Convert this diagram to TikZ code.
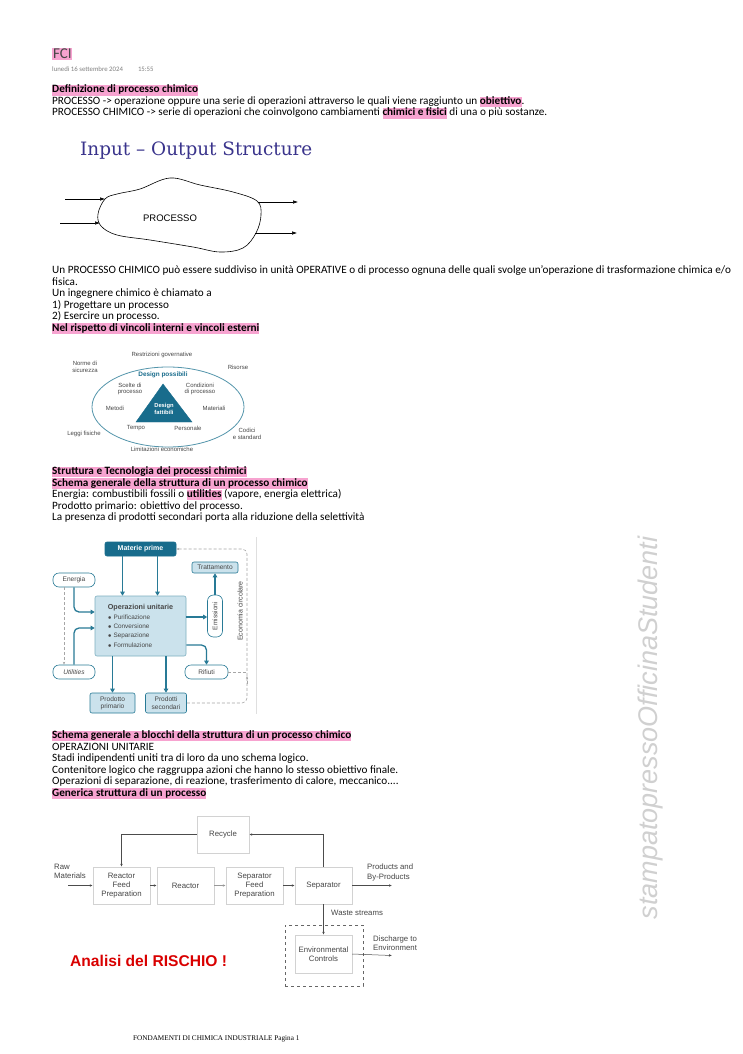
\documentclass[tikz,border=0pt]{standalone}
\usepackage{fontspec}
\setmainfont{Carlito}
\newfontfamily\arialf{Liberation Sans}
\newfontfamily\seriff{Liberation Serif}
\newfontfamily\titlef{DejaVu Serif}
\usetikzlibrary{arrows.meta,positioning}

\definecolor{hlpink}{RGB}{247,163,208}
\definecolor{titleblue}{RGB}{58,52,140}
\definecolor{tealdark}{RGB}{24,108,140}
\definecolor{tealline}{RGB}{40,122,150}
\definecolor{lightblue}{RGB}{203,226,236}
\definecolor{boxgray}{RGB}{210,210,210}
\definecolor{txtgray}{RGB}{70,70,70}
\definecolor{wmgray}{RGB}{208,208,208}

\newcommand{\hlbox}[1]{{\setlength{\fboxsep}{0pt}\colorbox{hlpink}{\rule[-2.6pt]{0pt}{10.2pt}#1}}}
\newcommand{\hlb}[1]{\hlbox{\textbf{#1}}}

\begin{document}
\begin{tikzpicture}[x=1pt,y=-1pt,
        riga/.style={anchor=base west,inner sep=0pt,font=\fontsize{11.2}{12}\selectfont},
        etich/.style={inner sep=0pt,align=center,text=txtgray,font=\arialf\fontsize{6}{6.6}\selectfont},
        sbox/.style={draw=tealline,fill=lightblue,line width=0.6pt,inner sep=1pt,align=center,text=txtgray,font=\arialf\fontsize{6.6}{7.4}\selectfont},
        sround/.style={sbox,fill=white,rounded corners=6pt,minimum height=14,minimum width=42},
        tarrow/.style={draw=tealline,line width=1.3pt,-{Triangle[length=4pt,width=4.5pt]},rounded corners=5pt},
        dloop/.style={draw=gray!70,densely dashed,line width=0.6pt},
        blocco/.style={draw=boxgray,minimum width=57,minimum height=37,align=center,inner sep=1pt,text=txtgray,font=\arialf\fontsize{7.8}{9.3}\selectfont},
        barrow/.style={draw=black!70,line width=0.5pt,-{Latex[length=3pt,width=2.5pt]}}]
            \useasboundingbox[fill=white] (0,0) rectangle (743,1054);

            % intestazione
            \node[riga,font=\fontsize{15}{16}\selectfont,text=txtgray] (fci) at (52,59) {{\setlength{\fboxsep}{0.8pt}\colorbox{hlpink}{FCI}}};
            \node[riga,font=\fontsize{6.8}{7}\selectfont,text=gray] (data) at (52,72) {lunedì 16 settembre 2024\hspace{15pt}15:55};

            \node[riga] (r1) at (52,93) {\hlb{Definizione di processo chimico}};
            \node[riga] (r2) at (52,104.5) {PROCESSO -> operazione oppure una serie di operazioni attraverso le quali viene raggiunto un \hlb{obiettivo}.};
            \node[riga] (r3) at (52,116) {PROCESSO CHIMICO -> serie di operazioni che coinvolgono cambiamenti \hlb{chimici e fisici} di una o più sostanze.};

            % input - output
            \node[anchor=base west,inner sep=0pt,text=titleblue,font=\titlef\fontsize{18.4}{20}\selectfont] (titolo) at (80,155) {Input – Output Structure};
            \draw[line width=0.6pt] plot[smooth cycle,tension=0.6] coordinates {(105,199) (117,194) (140,189) (170,178) (200,185) (233,192) (257,201) (261,215) (256,233) (243,248) (220,252) (193,247) (150,240) (117,235) (101,226) (98,214)};
            \node[font=\arialf\fontsize{9.5}{10}\selectfont] (proc) at (170,218) {PROCESSO};
            \coordinate (in1) at (65,199);
            \coordinate (in2) at (60,223);
            \coordinate (e1) at (105,199);
            \coordinate (e2) at (100,223);
            \coordinate (u1) at (258,202);
            \coordinate (u2) at (255,233);
            \coordinate (out1) at (298,202);
            \coordinate (out2) at (297,233);
            \draw[barrow,draw=black,-{Latex[length=5pt,width=3.5pt]}] (in1) -- (e1);
            \draw[barrow,draw=black,-{Latex[length=5pt,width=3.5pt]}] (in2) -- (e2);
            \draw[barrow,draw=black,-{Latex[length=5pt,width=3.5pt]}] (u1) -- (out1);
            \draw[barrow,draw=black,-{Latex[length=5pt,width=3.5pt]}] (u2) -- (out2);

            \node[riga] (r4) at (52,273.5) {Un PROCESSO CHIMICO può essere suddiviso in unità OPERATIVE o di processo ognuna delle quali svolge un'operazione di trasformazione chimica e/o};
            \node[riga] (r5) at (52,285) {fisica.};
            \node[riga] (r6) at (52,296.5) {Un ingegnere chimico è chiamato a};
            \node[riga] (r7) at (52,308) {1) Progettare un processo};
            \node[riga] (r8) at (52,319.5) {2) Esercire un processo.};
            \node[riga] (r9) at (52,331) {\hlb{Nel rispetto di vincoli interni e vincoli esterni}};

            % vincoli
            \draw[draw=tealline!80,line width=0.8pt] (168,407) ellipse [x radius=76,y radius=40];
            \draw[fill=tealdark,draw=tealdark] (163,384) -- (136,422) -- (192,422) -- cycle;
            \node[etich,text=white,font=\arialf\bfseries\fontsize{5.8}{6.2}\selectfont] (fattibili) at (164,409) {Design\\fattibili};
            \node[etich,text=tealdark,font=\arialf\bfseries\fontsize{6.4}{7}\selectfont] (possibili) at (163,375) {Design possibili};
            \node[etich] (restr) at (162,355) {Restrizioni governative};
            \node[etich] (norme) at (85,367) {Norme di\\sicurezza};
            \node[etich] (risorse) at (238,367) {Risorse};
            \node[etich] (scelte) at (130,389) {Scelte di\\processo};
            \node[etich] (condiz) at (200,389) {Condizioni\\di processo};
            \node[etich] (metodi) at (115,408) {Metodi};
            \node[etich] (materiali) at (214,408) {Materiali};
            \node[etich] (tempo) at (136,428) {Tempo};
            \node[etich] (personale) at (188,428) {Personale};
            \node[etich] (leggi) at (84,434) {Leggi fisiche};
            \node[etich] (codici) at (247,434) {Codici\\e standard};
            \node[etich] (limit) at (162,449) {Limitazioni economiche};

            \node[riga] (r10) at (52,474.5) {\hlb{Struttura e Tecnologia dei processi chimici}};
            \node[riga] (r11) at (52,486) {\hlb{Schema generale della struttura di un processo chimico}};
            \node[riga] (r12) at (52,497.5) {Energia: combustibili fossili o \hlb{utilities} (vapore, energia elettrica)};
            \node[riga] (r13) at (52,509) {Prodotto primario: obiettivo del processo.};
            \node[riga] (r14) at (52,520.5) {La presenza di prodotti secondari porta alla riduzione della selettività};

            % schema generale
            \node[sbox,fill=tealdark,draw=tealdark,rounded corners=2pt,minimum width=71,minimum height=14,text=white,font=\arialf\bfseries\fontsize{7}{7.5}\selectfont] (materie) at (140.5,549) {Materie prime};
            \node[sbox,rounded corners=2pt,minimum width=46,minimum height=11,inner sep=0.5pt] (tratt) at (215,567.5) {Trattamento};
            \node[sround] (energia) at (74,580) {Energia};
            \node[sbox,draw=tealline!60,rounded corners=2pt,minimum width=91,minimum height=60,align=left,font=\arialf\fontsize{6.4}{9.3}\selectfont] (opunit) at (140.5,626) {\textbf{\fontsize{7.2}{9.3}\selectfont Operazioni unitarie}\\ $\bullet$ Purificazione\\ $\bullet$ Conversione\\ $\bullet$ Separazione\\ $\bullet$ Formulazione};
            \node[sround,minimum width=15,minimum height=42] (emiss) at (215,616) {\rotatebox{90}{Emissioni}};
            \node[sround] (utilities) at (74,672) {\textit{Utilities}};
            \node[sround,minimum width=43] (rifiuti) at (206.5,672) {Rifiuti};
            \node[sbox,rounded corners=2pt,minimum width=45,minimum height=20] (prodprim) at (112.5,703) {Prodotto\\primario};
            \node[sbox,rounded corners=2pt,minimum width=41,minimum height=20] (prodsec) at (166,703) {Prodotti\\secondari};
            \node[etich,font=\arialf\fontsize{7}{7.5}\selectfont] (econ) at (240,611) {\rotatebox{90}{Economia circolare}};
            \draw[gray!25,line width=0.8pt] (256,537) -- (256,714);

            \draw[tarrow] ([xshift=-18pt]materie.south) -- ([xshift=-18pt]materie.south |- opunit.north);
            \draw[tarrow] ([xshift=17pt]materie.south) -- ([xshift=17pt]materie.south |- opunit.north);
            \draw[tarrow] (energia.south) |- ([yshift=14pt]opunit.west);
            \draw[tarrow] (utilities.north) |- ([yshift=-2pt]opunit.west);
            \draw[tarrow] ([yshift=9pt]opunit.east) -- ([yshift=9pt]opunit.east -| emiss.west);
            \draw[tarrow] (emiss.north) -- (tratt.south);
            \draw[tarrow] ([yshift=-19pt]opunit.east) -| (rifiuti.north);
            \draw[tarrow] (prodprim.north |- opunit.south) -- (prodprim.north);
            \draw[tarrow] (prodsec.north |- opunit.south) -- (prodsec.north);
            \draw[dloop,-{Stealth[length=3pt]}] ([xshift=-10pt]energia.south) -- ([xshift=-10pt]utilities.north);
            \coordinate (giro) at (247,549);
            \draw[dloop,rounded corners=5pt,-{Stealth[length=3pt]}] (prodsec.east) -| (giro) -- (materie.east);
            \draw[dloop] (rifiuti.east) -- (rifiuti.east -| giro);
            \coordinate (freccia) at (247,684);
            \draw[dloop,-{Stealth[length=3pt]}] (freccia) -- ++(0,-8);

            \node[riga] (r15) at (52,738.5) {\hlb{Schema generale a blocchi della struttura di un processo chimico}};
            \node[riga] (r16) at (52,750) {OPERAZIONI UNITARIE};
            \node[riga] (r17) at (52,761.5) {Stadi indipendenti uniti tra di loro da uno schema logico.};
            \node[riga] (r18) at (52,773) {Contenitore logico che raggruppa azioni che hanno lo stesso obiettivo finale.};
            \node[riga] (r19) at (52,784.5) {Operazioni di separazione, di reazione, trasferimento di calore, meccanico....};
            \node[riga] (r20) at (52,796) {\hlb{Generica struttura di un processo}};

            % struttura generica
            \node[blocco,minimum width=52] (recycle) at (223,834.5) {Recycle};
            \node[blocco] (rfp) at (121.5,885.5) {Reactor\\Feed\\Preparation};
            \node[blocco] (reactor) at (185.5,885.5) {Reactor};
            \node[blocco] (sfp) at (254.5,885.5) {Separator\\Feed\\Preparation};
            \node[blocco] (sep) at (323.5,885.5) {Separator};
            \node[blocco,minimum height=38] (env) at (323.5,954) {Environmental\\Controls};
            \node[draw=black!60,dashed,minimum width=78,minimum height=61] (envbox) at (324,955.5) {};
            \node[blocco,draw=none,anchor=west,align=left,minimum width=0,minimum height=0] (raw) at (53,871.5) {Raw\\Materials};
            \node[blocco,draw=none,anchor=west,align=left,minimum width=0,minimum height=0] (prod) at (366,872.5) {Products and\\By-Products};
            \node[blocco,draw=none,anchor=west,align=left,minimum width=0,minimum height=0] (waste) at (330,913) {Waste streams};
            \node[blocco,draw=none,anchor=west,align=left,minimum width=0,minimum height=0] (disch) at (372,943.5) {Discharge to\\Environment};
            \coordinate (rawin) at (68,885.5);
            \coordinate (prodend) at (392,885.5);
            \coordinate (dischend) at (392,955.5);
            \draw[barrow] (rawin) -- (rfp.west);
            \draw[barrow] (rfp.east) -- (reactor.west);
            \draw[barrow,draw=black!40] (reactor.east) -- (sfp.west);
            \draw[barrow] (sfp.east) -- (sep.west);
            \draw[barrow] (sep.east) -- (prodend);
            \draw[barrow] (sep.north) |- (recycle.east);
            \draw[barrow] (recycle.west) -| (rfp.north);
            \draw[barrow] (sep.south) -- (env.north);
            \draw[barrow] (env.east) -- (dischend);

            \node[anchor=base west,inner sep=0pt,text=red!85!black,font=\arialf\bfseries\fontsize{15.6}{17}\selectfont] (rischio) at (70,966) {Analisi del RISCHIO !};

            % piede e filigrana
            \node[anchor=base west,inner sep=0pt,font=\seriff\fontsize{7.2}{8}\selectfont] (piede) at (133,1040) {FONDAMENTI DI CHIMICA INDUSTRIALE Pagina 1};
            \node[rotate=90,inner sep=0pt,text=wmgray,font=\arialf\itshape\fontsize{27}{29}\selectfont] (filigrana) at (651,728) {stampatopressoOfficinaStudenti};
        \end{tikzpicture}
\end{document}
